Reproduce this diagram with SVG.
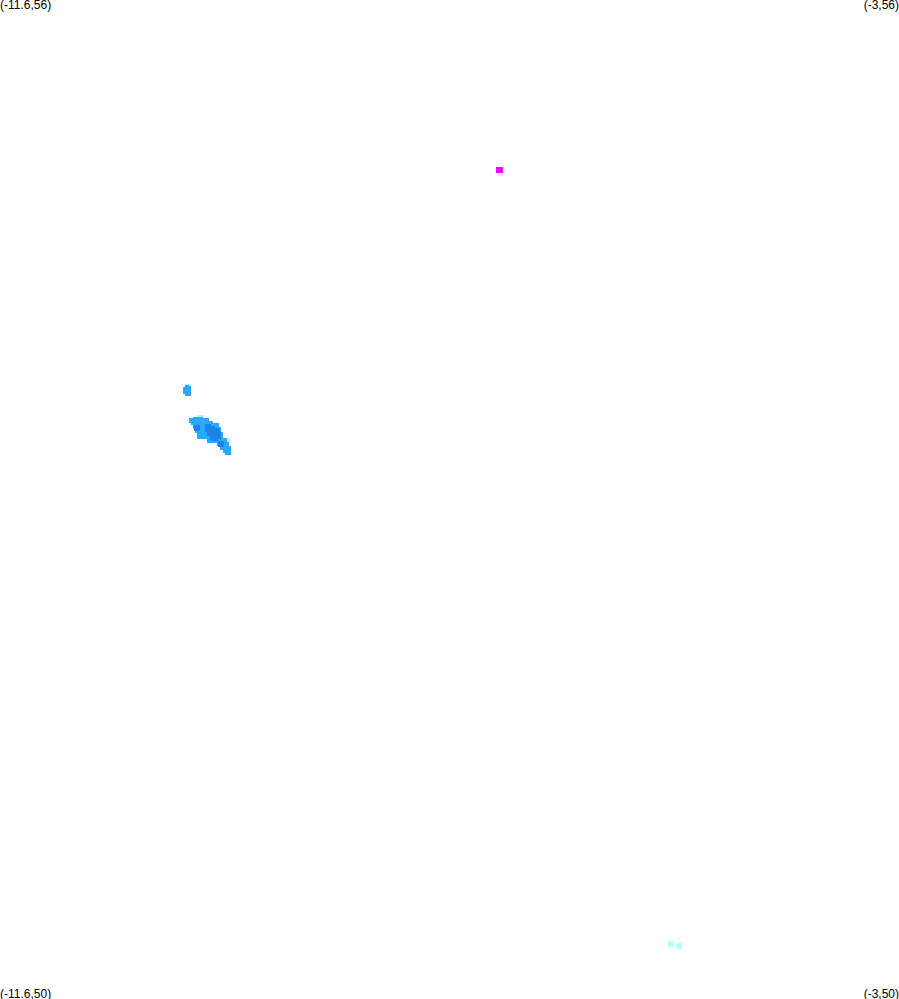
<svg xmlns="http://www.w3.org/2000/svg" width="899" height="999" viewBox="0 0 899 999">
<style>
text{font-family:"Liberation Sans",Arial,sans-serif;font-size:12px;fill:#000}
.l{fill:#29a9ff}.d{fill:#1e82e6}.c{fill:#b4ffff}.p{fill:#a8f4ff}
</style>
<rect width="899" height="999" fill="#fff"/>
<text x="0" y="9">(-11.6,56)</text>
<text x="899" y="9" text-anchor="end">(-3,56)</text>
<text x="0" y="998">(-11.6,50)</text>
<text x="899" y="998" text-anchor="end">(-3,50)</text>
<rect x="496" y="167" width="7" height="6" fill="#ff00ff"/>
<rect x="668" y="941" width="6" height="6" class="c"/>
<rect x="676" y="943" width="6" height="6" class="c"/>
<rect x="185" y="384" width="6" height="4" class="p"/>
<path class="l" d="M185 385h4v1h2v10h-6v-2h-2v-7h2z"/>
<rect x="197" y="415" width="7" height="3" class="p"/>
<rect x="225" y="438" width="5" height="5" class="p"/>
<path class="l" d="M193 417H203V418H209V421H213V423H219V427H221V432H223V438H227V442H229V446H231V455H225V453H223V450H220V446H217V443H207V439H197V433H195V429H193V425H191V423H189V418H193Z"/>
<path class="d" d="M205 424H211V426H215V428H220V432H221V439H218V441H212V440H210V436H207V432H205Z"/>
<rect x="194" y="425" width="6" height="6" class="d"/>
<rect x="218" y="441" width="6" height="6" class="d"/>
</svg>
